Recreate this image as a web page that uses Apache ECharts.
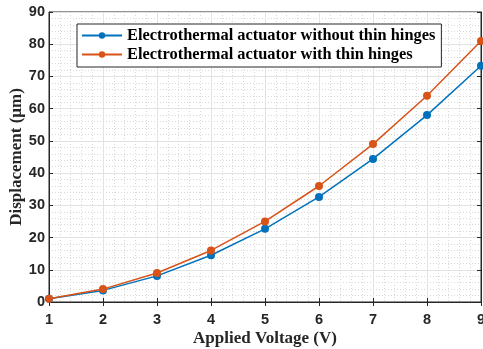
<!DOCTYPE html>
<html><head><meta charset="utf-8">
<script src="https://cdn.jsdelivr.net/npm/echarts@6/dist/echarts.min.js"></script>
<style>html,body{margin:0;padding:0;background:#fff}#c{width:483px;height:349px}</style>
</head><body><div id="c"></div>
<script>
const voltages = [1, 2, 3, 4, 5, 6, 7, 8, 9];
const withoutHinges = [1, 3.6, 8.1, 14.5, 22.7, 32.6, 44.4, 58.0, 73.3];
const withHinges = [1, 4, 9, 16, 25, 36, 49, 64, 81];
const seriesNames = ['Electrothermal actuator without thin hinges', 'Electrothermal actuator with thin hinges'];
const xTitle = 'Applied Voltage (V)';
const yTitle = 'Displacement (\u03bcm)';

const axisColor = '#262626';
const tickFont = {fontFamily: 'Liberation Sans', fontWeight: 'bold', fontSize: 14.5, color: axisColor};
const minorGrid = {show: true, lineStyle: {color: '#d9d9d9', type: [1, 2], width: 1}};
const majorGrid = {show: true, lineStyle: {color: '#e3e3e3', width: 1}};

const chart = echarts.init(document.getElementById('c'), null, {renderer: 'canvas'});
chart.setOption({
  animation: false,
  backgroundColor: '#fff',
  grid: {left: 49, top: 12, width: 432, height: 290, containLabel: false, outerBoundsMode: 'none',
         show: true, borderColor: axisColor, borderWidth: 1, backgroundColor: 'transparent'},
  legend: {
    orient: 'vertical', left: 77, top: 24, itemGap: 2, itemWidth: 40, itemHeight: 8,
    padding: [3, 6, 4, 4], borderColor: axisColor, borderWidth: 1, backgroundColor: '#fff',
    textStyle: {fontFamily: 'Liberation Serif', fontWeight: 'bold', fontSize: 16.4, lineHeight: 17, color: '#000'},
    data: seriesNames
  },
  xAxis: [{
    type: 'value', min: 1, max: 9, interval: 1,
    name: xTitle, nameLocation: 'middle', nameGap: 28, nameMoveOverlap: false,
    nameTextStyle: {fontFamily: 'Liberation Serif', fontWeight: 'bold', fontSize: 17, color: axisColor},
    axisLine: {show: true, lineStyle: {color: axisColor}},
    axisTick: {show: true, inside: true, length: 4, lineStyle: {color: axisColor}},
    axisLabel: Object.assign({margin: 10}, tickFont),
    splitLine: majorGrid,
    minorTick: {show: false, splitNumber: 5},
    minorSplitLine: minorGrid
  }, {
    type: 'value', min: 1, max: 9, interval: 1, position: 'top',
    axisLine: {show: true, lineStyle: {color: axisColor}},
    axisTick: {show: true, inside: true, length: 4, lineStyle: {color: axisColor}},
    axisLabel: {show: false}, splitLine: {show: false}
  }],
  yAxis: [{
    type: 'value', min: 0, max: 90, interval: 10,
    name: yTitle, nameLocation: 'middle', nameGap: 24, nameRotate: 90, nameMoveOverlap: false,
    nameTextStyle: {fontFamily: 'Liberation Serif', fontWeight: 'bold', fontSize: 17, color: axisColor},
    axisLine: {show: true, lineStyle: {color: axisColor}},
    axisTick: {show: true, inside: true, length: 4, lineStyle: {color: axisColor}},
    axisLabel: Object.assign({margin: 4}, tickFont),
    splitLine: majorGrid,
    minorTick: {show: false, splitNumber: 5},
    minorSplitLine: minorGrid
  }, {
    type: 'value', min: 0, max: 90, interval: 10, position: 'right',
    axisLine: {show: true, lineStyle: {color: axisColor}},
    axisTick: {show: true, inside: true, length: 4, lineStyle: {color: axisColor}},
    axisLabel: {show: false}, splitLine: {show: false}
  }],
  series: [{
    name: seriesNames[0], type: 'line', color: '#0072BD',
    data: voltages.map((v, i) => [v, withoutHinges[i]]),
    symbol: 'circle', symbolSize: 8, lineStyle: {width: 1.5}, z: 3
  }, {
    name: seriesNames[1], type: 'line', color: '#D95319',
    data: voltages.map((v, i) => [v, withHinges[i]]),
    symbol: 'circle', symbolSize: 8, lineStyle: {width: 1.5}, z: 4
  }]
});
</script></body></html>
